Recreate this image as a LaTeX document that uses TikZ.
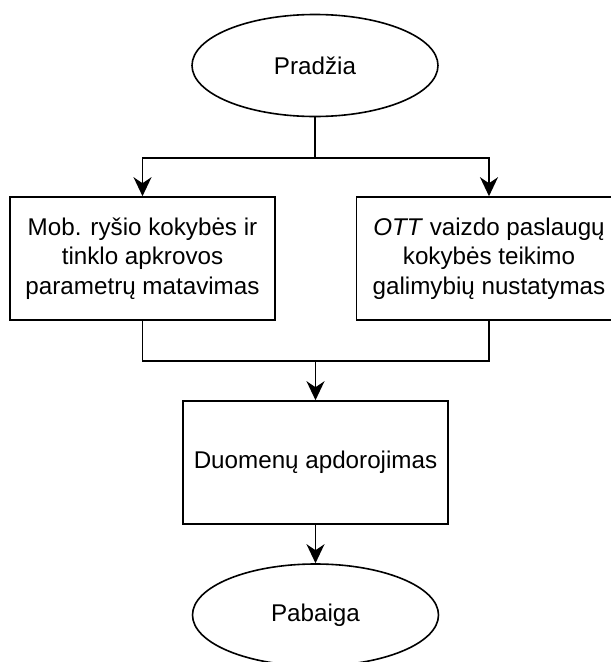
\documentclass[tikz,border=0pt]{standalone}
\usepackage{fontspec}
\setmainfont{Liberation Sans}
\usetikzlibrary{%
  arrows.meta,%
  shapes.geometric,% wg. ellipse
  positioning%
}

\begin{document}
\begin{tikzpicture}[x=1pt, y=-1pt, line width=1.6pt,
  arr/.style={-{Stealth[length=19pt,width=18pt,inset=6pt]}},
  terminal/.style={draw, ellipse, inner sep=0pt, minimum width=246pt, minimum height=102pt,
    font=\fontsize{24.2}{29.5}\selectfont},
  process/.style={draw, rectangle, inner sep=0pt, minimum width=265pt, minimum height=123pt,
    align=center, font=\fontsize{24.2}{29.5}\selectfont}]

\useasboundingbox (0,0) rectangle (611,662);

% --------
\node [terminal] (start) at (315,65.5) {Pradžia};

\node [process] (meas) at (142.5,258.5) {Mob. ryšio kokybės ir\\tinklo apkrovos\\parametrų matavimas};
\node [process] (ott) at (489,258.5) {\textit{OTT} vaizdo paslaugų\\kokybės teikimo\\galimybių nustatymas};

\node [process] (proc) at (315.5,462.5) {Duomenų apdorojimas};

\node [terminal] (stop) at (315.5,615) {Pabaiga};

% --------
\coordinate (split) at (start.south |- 0,158);
\coordinate (join) at (proc.north |- 0,361);

\draw (start.south) -- (split);
\draw [arr] (split) -| (meas.north);
\draw [arr] (split) -| (ott.north);

\draw (meas.south) |- (join) -| (ott.south);
\draw [arr] (join) -- (proc.north);

\draw [arr] (proc.south) -- (stop.north);

\end{tikzpicture}
\end{document}
